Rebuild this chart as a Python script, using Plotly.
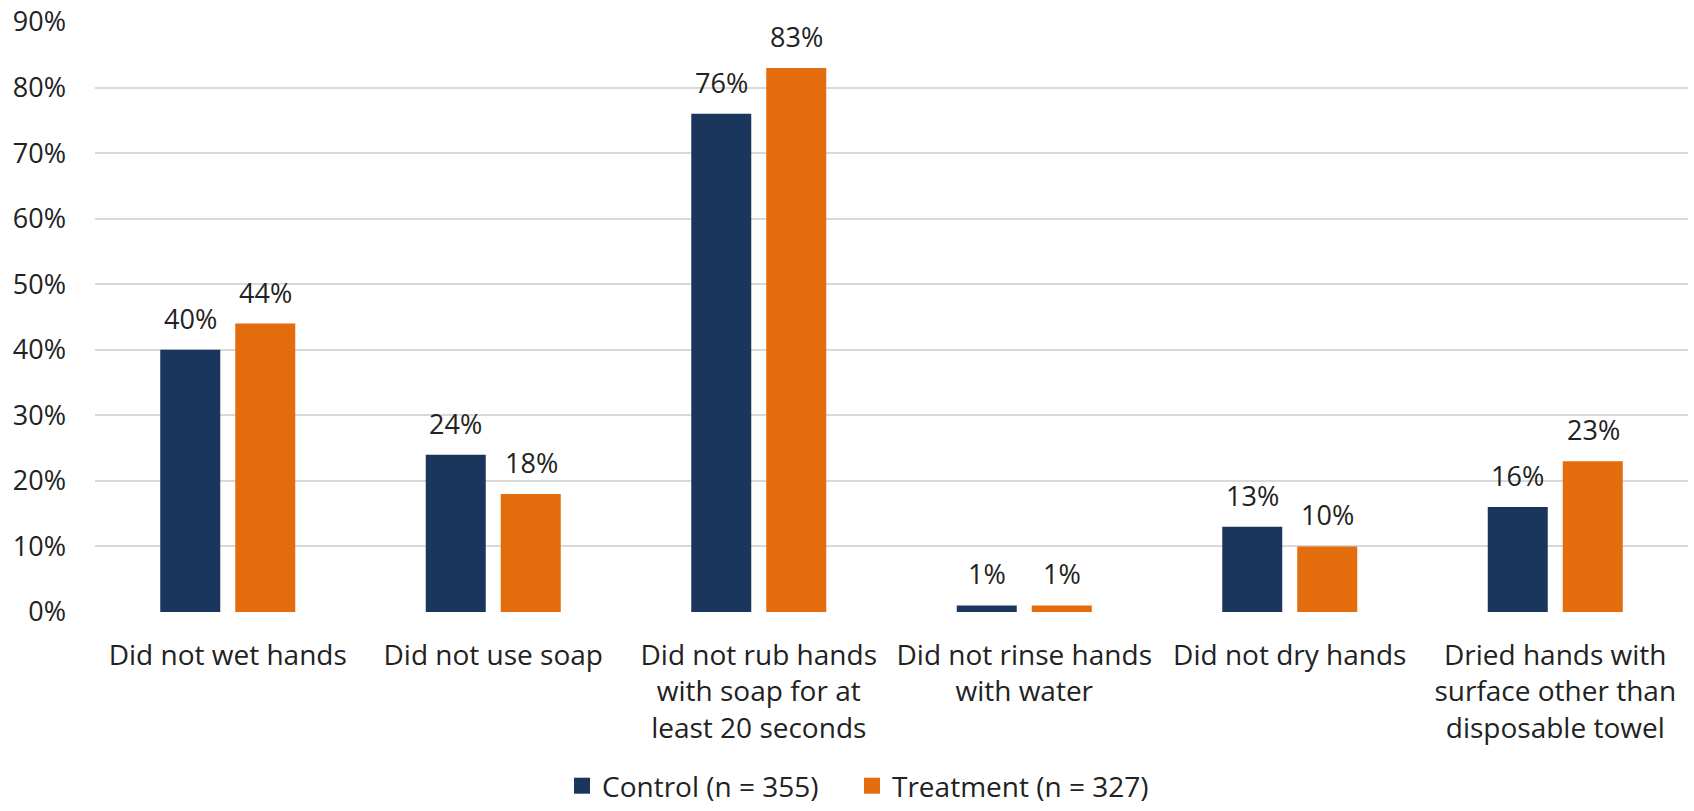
import plotly.graph_objects as go

categories = [
    "Did not wet hands",
    "Did not use soap",
    "Did not rub hands<br>with soap for at<br>least 20 seconds",
    "Did not rinse hands<br>with water",
    "Did not dry hands",
    "Dried hands with<br>surface other than<br>disposable towel",
]
control_pct = [40, 24, 76, 1, 13, 16]
treatment_pct = [44, 18, 83, 1, 10, 23]
series_names = ["Control (n = 355)", "Treatment (n = 327)"]
y_ticks = [0, 10, 20, 30, 40, 50, 60, 70, 80, 90]

NAVY = "#1b365d"
ORANGE = "#e36c0c"
TEXT = "#222222"
FONT = "Open Sans"

fig = go.Figure()
series = [(series_names[0], control_pct, NAVY, -37.75, "legend"),
          (series_names[1], treatment_pct, ORANGE, 37.75, "legend2")]
for name, vals, color, shift, leg in series:
    fig.add_trace(go.Bar(
        x=categories, y=vals, name=name, showlegend=False,
        marker=dict(color=color, line=dict(width=0)),
    ))
    # legend entry with a larger square swatch
    fig.add_trace(go.Scatter(
        x=[None], y=[None], mode="markers", name=name, legend=leg,
        marker=dict(symbol="square", size=17, color=color),
    ))
    # value labels above each bar
    for cat, v in zip(categories, vals):
        fig.add_annotation(
            x=cat, y=v, xref="x", yref="y", text=f"{v}%", showarrow=False,
            xshift=shift, yanchor="bottom", yshift=11,
            font=dict(family=FONT, size=27, color=TEXT),
        )

legend_common = dict(orientation="h", xanchor="left",
                     yref="container", y=0, yanchor="bottom",
                     font=dict(family=FONT, size=28, color=TEXT),
                     itemwidth=30, bgcolor="rgba(0,0,0,0)")

fig.update_layout(
    barmode="group",
    bargap=0.435,
    bargroupgap=0.2,
    width=1694, height=811,
    margin=dict(l=95, r=6, t=22, b=199),
    plot_bgcolor="white", paper_bgcolor="white",
    font=dict(family=FONT, size=28, color=TEXT),
    legend=dict(x=(562 - 95) / 1593, **legend_common),
    legend2=dict(x=(852 - 95) / 1593, **legend_common),
    xaxis=dict(showgrid=False, showline=False, zeroline=False, ticks="",
               ticklabelstandoff=24, tickangle=0, automargin=False,
               tickfont=dict(family=FONT, size=28, color=TEXT)),
    yaxis=dict(range=[0, 90], tickvals=y_ticks,
               ticktext=[f"{t}%" for t in y_ticks],
               showgrid=True, gridcolor="#d9d9d9", gridwidth=2,
               zeroline=False, showline=False, ticks="",
               ticklabelstandoff=28, automargin=False,
               tickfont=dict(family=FONT, size=27, color=TEXT)),
)

fig.write_html("out.html")
